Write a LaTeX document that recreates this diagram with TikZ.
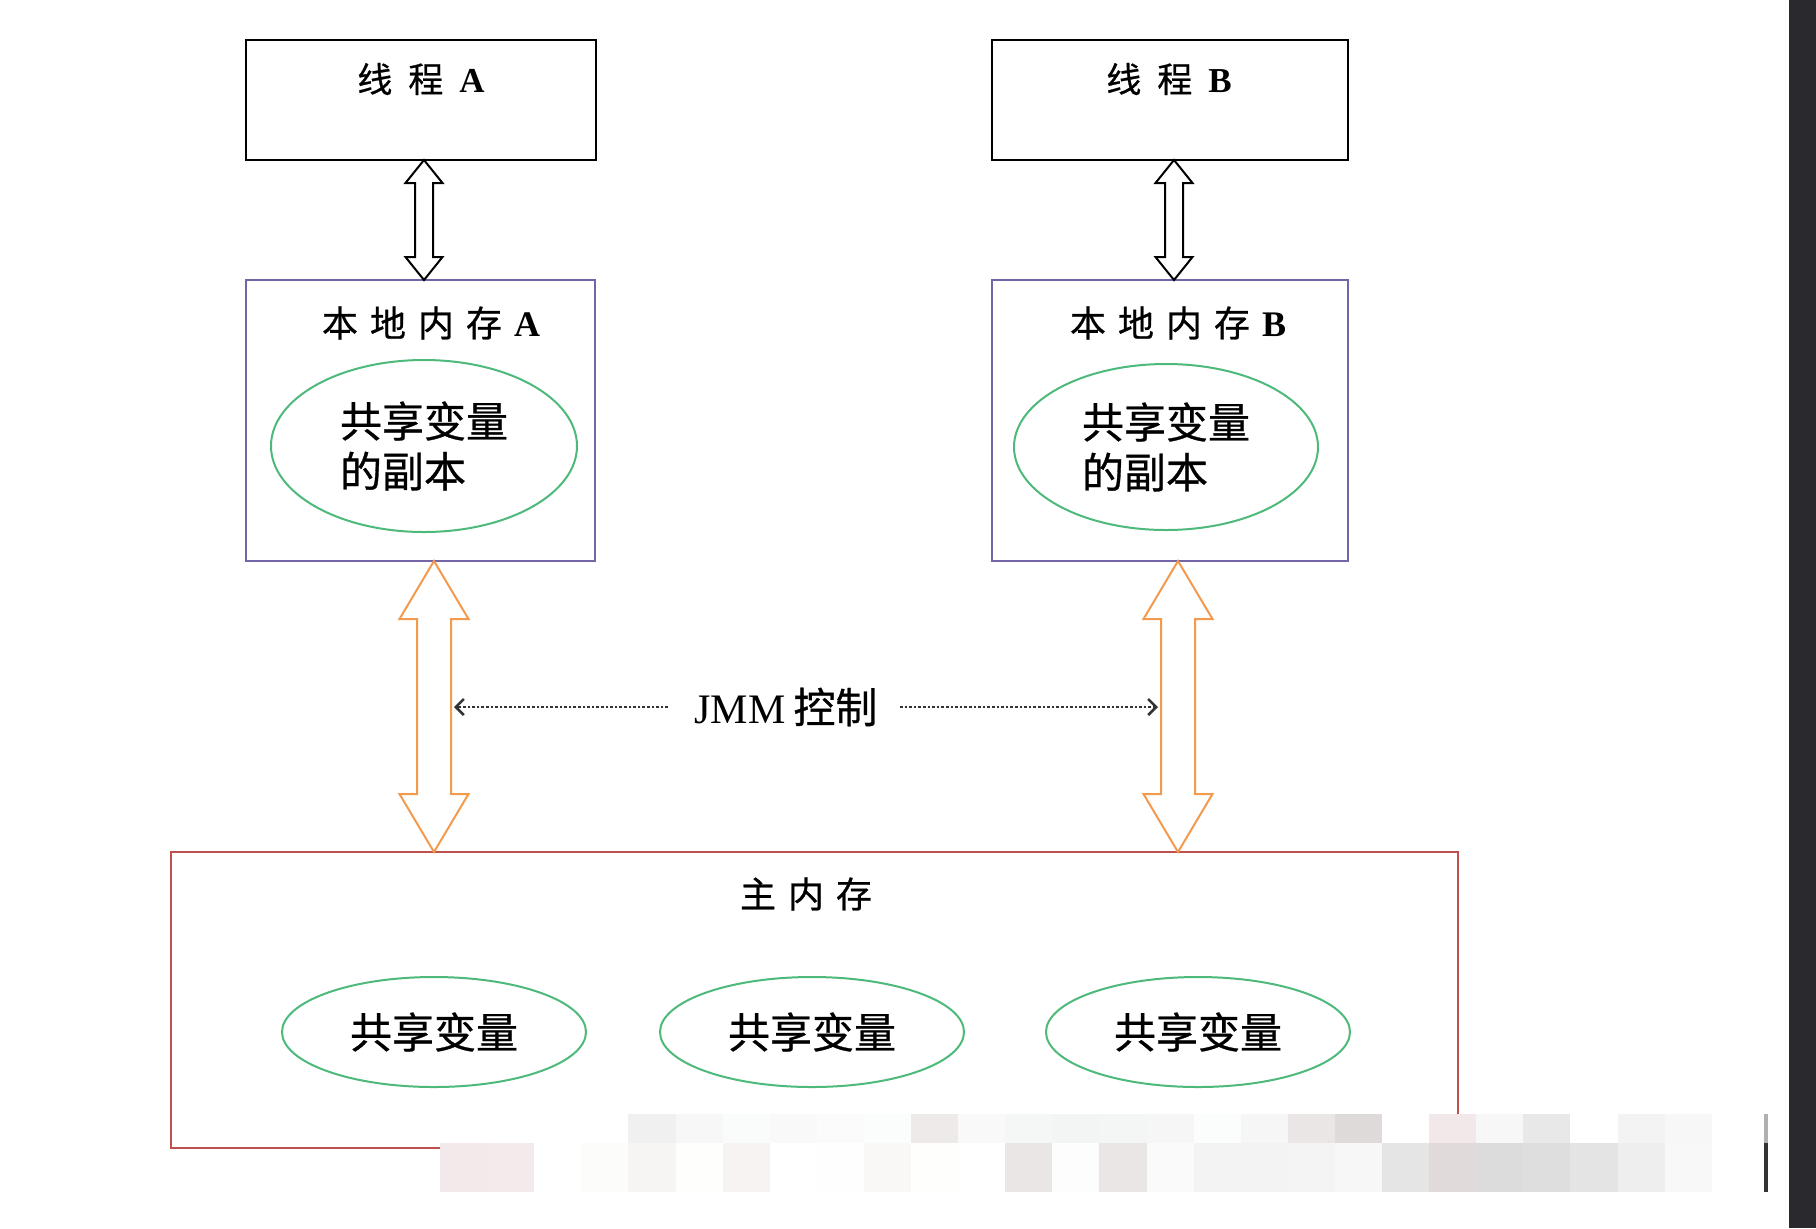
\documentclass[tikz,border=0pt]{standalone}
\usepackage{fontspec}
\setmainfont{Liberation Serif}
\newfontfamily\cjk[FakeBold=0.7]{Noto Sans CJK SC}
\usetikzlibrary{shapes.geometric,calc,arrows.meta}
\definecolor{boxpurple}{HTML}{7464A8}
\definecolor{ellgreen}{HTML}{4DB97A}
\definecolor{arrorange}{HTML}{F39A4E}
\definecolor{boxred}{HTML}{C0504D}
\definecolor{darkstrip}{HTML}{2A292D}
\newcommand\fatarrow[6]{%
\draw[#1] (#2) -- ($(#2)+(#5,#6)$) -- ($(#2)+(#4,#6)$) -- ($(#3)+(#4,-#6)$) -- ($(#3)+(#5,-#6)$) -- (#3) -- ($(#3)+(-#5,-#6)$) -- ($(#3)+(-#4,-#6)$) -- ($(#2)+(-#4,#6)$) -- ($(#2)+(-#5,#6)$) -- cycle;}
\tikzset{
  threadbox/.style={draw=black, line width=1.4pt, minimum height=60pt, inner sep=0pt, outer sep=0pt},
  localbox/.style={draw=boxpurple, line width=1pt, minimum height=140.5pt, inner sep=0pt, outer sep=0pt},
  mainbox/.style={draw=boxred, line width=1pt, inner sep=0pt, outer sep=0pt},
  varell/.style={ellipse, draw=ellgreen, line width=1pt, inner sep=0pt, outer sep=0pt, align=left,
     font=\cjk\fontsize{21pt}{25pt}\selectfont},
  titletext/.style={inner sep=0pt, font=\fontsize{18pt}{21pt}\selectfont},
  blackarrow/.style={draw=black, fill=white, line width=1pt, line join=miter},
  orangearrow/.style={draw=arrorange, fill=white, line width=1pt, line join=miter},
  jmmline/.style={draw=black!80, line width=1.3pt, densely dotted, -{Straight Barb[length=4pt,width=8pt]}},
}
\begin{document}
\begin{tikzpicture}[x=0.5pt,y=-0.5pt]
\fill[white] (0,0) rectangle (1816,1228);
\useasboundingbox (0,0) rectangle (1816,1228);

% thread boxes
\node[threadbox, minimum width=175pt] (ta) at (421,100) {};
\node[threadbox, minimum width=178pt] (tb) at (1170,100) {};
\node[titletext, font=\fontsize{17.5pt}{20pt}\selectfont] (tat) at (421,79) {{\cjk 线\hspace{8pt}程}\hspace{8pt}\textbf{A}};
\node[titletext, font=\fontsize{17.5pt}{20pt}\selectfont] (tbt) at (1169,79) {{\cjk 线\hspace{8pt}程}\hspace{8pt}\textbf{B}};

% local memory boxes
\node[localbox, minimum width=174.5pt] (la) at (420.5,420.5) {};
\node[localbox, minimum width=178pt] (lb) at (1170,420.5) {};
\node[titletext] (lat) at (431,323) {{\cjk 本\hspace{6pt}地\hspace{6pt}内\hspace{6pt}存}\hspace{6pt}\textbf{A}};
\node[titletext] (lbt) at (1178,323) {{\cjk 本\hspace{6pt}地\hspace{6pt}内\hspace{6pt}存}\hspace{6pt}\textbf{B}};
\node[varell, minimum width=153pt, minimum height=86pt] (ea) at (424,446) {共享变量\\的副本};
\node[varell, minimum width=152pt, minimum height=83pt] (eb) at (1166,447) {共享变量\\的副本};

% main memory
\node[mainbox, minimum width=643.5pt, minimum height=148pt] (mm) at (814.5,1000) {};
\node[titletext] (mmt) at (806,894) {\cjk 主\hspace{6pt}内\hspace{6pt}存};
\node[varell, minimum width=152pt, minimum height=55pt] (v1) at (434,1032) {共享变量};
\node[varell, minimum width=152pt, minimum height=55pt] (v2) at (812,1032) {共享变量};
\node[varell, minimum width=152pt, minimum height=55pt] (v3) at (1198,1032) {共享变量};

% black double arrows
\coordinate (bat) at ($(ta.south)+(3,0)$);
\coordinate (bab) at (bat |- la.north);
\coordinate (bbt) at ($(tb.south)+(4,0)$);
\coordinate (bbb) at (bbt |- lb.north);
\fatarrow{blackarrow}{bat}{bab}{9}{18.5}{23}
\fatarrow{blackarrow}{bbt}{bbb}{9}{18.5}{23}

% orange double arrows
\coordinate (oat) at ($(la.south)+(13.5,0)$);
\coordinate (oab) at (oat |- mm.north);
\coordinate (obt) at ($(lb.south)+(8,0)$);
\coordinate (obb) at (obt |- mm.north);
\fatarrow{orangearrow}{oat}{oab}{17}{34.5}{58}
\fatarrow{orangearrow}{obt}{obb}{17}{34.5}{58}

% JMM control
\node[inner sep=0pt, font=\fontsize{21pt}{25pt}\selectfont] (jmm) at (786,707) {JMM\hspace{4pt}{\cjk 控制}};
\coordinate (jl) at ($(oat |- jmm)+(20,0)$);
\coordinate (jr) at ($(obt |- jmm)+(-20,0)$);
\draw[jmmline] ([xshift=-13pt]jmm.west) -- (jl);
\draw[jmmline] ([xshift=11pt]jmm.east) -- (jr);

% pixelated redaction band
\foreach \i/\c in {4/F0F0F0,5/F7F7F7,6/FAFBFB,7/F9F9F9,8/FBFBFB,9/FBFCFC,10/EEEAEA,11/F9F9F9,12/F5F6F6,13/F3F4F4,14/F4F5F5,15/F6F6F6,16/FBFCFC,17/F6F6F6,18/EAE6E6,19/DEDADA,20/FFFFFF,21/F2E8EA,22/F7F7F7,23/E8E8E8,24/FFFFFF,25/F3F3F3,26/F7F7F7}{
  \definecolor{mcell}{HTML}{\c}
  \fill[mcell] ({440+47.1*\i},1114) rectangle ({440+47.1*(\i+1)},1143.5);
}
\foreach \i/\c in {0/F3E9EA,1/F3EBEB,2/FFFFFF,3/FCFCFB,4/F6F5F4,5/FEFEFD,6/F8F3F3,7/FFFFFF,8/FEFEFE,9/F9F8F7,10/FEFEFD,11/FFFFFF,12/EAE6E6,13/FDFDFD,14/EAE6E6,15/FAFAFA,16/F3F3F3,17/F3F3F3,18/F4F4F4,19/F7F7F7,20/E5E5E5,21/E0DADB,22/DCDCDC,23/DEDEDE,24/E4E4E4,25/EEEEEE,26/F8F8F8}{
  \definecolor{mcell}{HTML}{\c}
  \fill[mcell] ({440+47.1*\i},1143) rectangle ({440+47.1*(\i+1)},1192);
}
\fill[black!31] (1764,1114) rectangle (1768,1143);
\fill[black!80] (1764,1143) rectangle (1768,1192);

% dark strip at right edge
\fill[darkstrip] (1789,0) rectangle (1816,1228);
\end{tikzpicture}
\end{document}
